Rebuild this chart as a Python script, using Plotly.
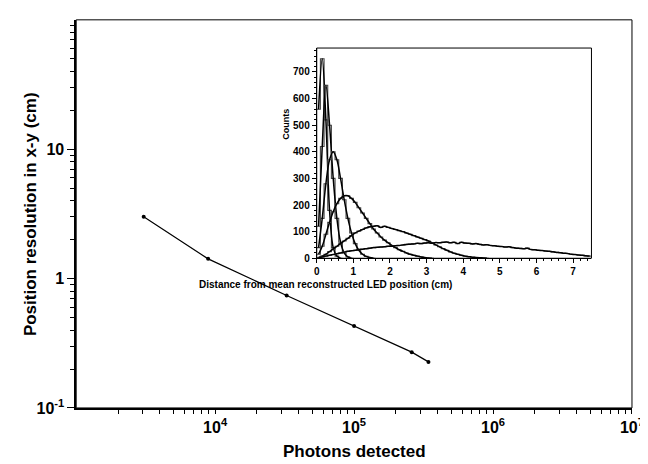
import plotly.graph_objects as go

# main curve: resolution vs photons detected
photons = [3060, 8900, 32700, 100000, 260000, 343000]
resolution = [3.0, 1.42, 0.74, 0.43, 0.27, 0.227]

# inset histograms, 0.1 cm bins starting at 0
bin_width = 0.1
hist_a = [560, 750, 520, 180, 40, 8, 0]
hist_b = [120, 420, 650, 500, 300, 150, 60, 20, 5, 0]
hist_c = [40, 150, 280, 370, 400, 370, 300, 220, 150, 95, 55, 30, 15, 7, 3, 0]
hist_d = [15, 45, 90, 135, 175, 205, 225, 235, 235, 225, 210, 190, 170, 150, 130, 110, 95, 80,
          68, 58, 48, 40, 32, 26, 20, 15, 11, 8, 5, 3, 1, 0]
hist_e = [3, 8, 15, 25, 35, 45, 55, 65, 75, 85, 95, 102, 108, 114, 118, 120, 122, 116, 120, 116,
          112, 108, 104, 100, 95, 90, 85, 80, 75, 70, 65, 58, 50, 43, 36, 30, 24, 19, 15, 11,
          8, 6, 4, 3, 2, 1, 0]
hist_f = [2, 5, 8, 11, 14, 17, 20, 23, 26, 28, 30, 33, 34, 36, 38, 40, 41, 42, 43, 45,
          45, 47, 48, 50, 52, 53, 54, 56, 55, 57, 58, 56, 59, 58, 60, 61, 58, 60, 55, 60,
          57, 56, 54, 55, 52, 50, 51, 48, 47, 45, 44, 42, 43, 40, 38, 37, 36, 38, 33, 32,
          30, 29, 27, 26, 24, 22, 21, 19, 18, 15, 14, 12, 11, 9, 8]
histograms = [hist_a, hist_b, hist_c, hist_d, hist_e, hist_f]

# minor tick positions for log axes
x_minor = [m * 10 ** d for d in range(3, 7) for m in range(2, 10)]
y_minor = [m * 10 ** d for d in range(-1, 2) for m in range(2, 10)]

fig = go.Figure()
fig.add_trace(go.Scatter(x=photons, y=resolution, mode="lines+markers",
                         line=dict(color="black", width=1.2),
                         marker=dict(color="black", size=4), showlegend=False))

for h in histograms:
    edges = [i * bin_width for i in range(len(h))]
    centers = [e + bin_width / 2 for e in edges]
    fig.add_trace(go.Scatter(x=edges + [len(h) * bin_width], y=h + [h[-1]], mode="lines",
                             line=dict(color="#444", width=1.1, shape="hv"),
                             xaxis="x2", yaxis="y2", showlegend=False))
    fig.add_trace(go.Scatter(x=centers, y=h, mode="lines",
                             line=dict(color="black", width=1.5, shape="spline", smoothing=1.0),
                             xaxis="x2", yaxis="y2", showlegend=False))

bold = dict(family="Liberation Sans, Arial", color="black", weight="bold")
axis_common = dict(showline=True, linecolor="black", mirror=False, ticks="outside",
                   tickcolor="black", showgrid=False, zeroline=False)

fig.update_layout(
    width=648, height=464, margin=dict(l=0, r=0, t=0, b=0),
    paper_bgcolor="white", plot_bgcolor="white",
    xaxis=dict(type="log", range=[3, 7], domain=[0.103, 0.981], linewidth=1.5,
               tickvals=[1e4, 1e5, 1e6, 1e7],
               ticktext=["10<sup>4</sup>", "10<sup>5</sup>", "10<sup>6</sup>", "10<sup>7</sup>"],
               ticklen=4, tickfont=dict(size=16, **bold),
               minor=dict(ticks="outside", ticklen=4, tickcolor="black", tickvals=x_minor),
               **axis_common),
    yaxis=dict(type="log", range=[-1, 2], domain=[0.121, 0.974], linewidth=1.5,
               tickvals=[0.1, 1, 10], ticktext=["10<sup>-1</sup>", "1", "10"],
               ticklen=7, tickfont=dict(size=16, **bold),
               minor=dict(ticks="outside", ticklen=4, tickcolor="black", tickvals=y_minor),
               **axis_common),
    xaxis2=dict(range=[0, 7.5], domain=[0.483, 0.917], anchor="y2", linewidth=1,
                tickvals=list(range(8)), ticklen=4, tickfont=dict(size=10, **bold),
                minor=dict(ticks="outside", ticklen=2, tickcolor="black", dtick=0.2),
                **axis_common),
    yaxis2=dict(range=[0, 790], domain=[0.450, 0.912], anchor="x2", linewidth=1,
                tickvals=[0, 100, 200, 300, 400, 500, 600, 700], ticklen=4,
                tickfont=dict(size=10, **bold),
                minor=dict(ticks="outside", ticklen=2, tickcolor="black", dtick=20),
                **axis_common),
    shapes=[
        dict(type="rect", xref="paper", yref="paper", x0=0.103, x1=0.981, y0=0.121, y1=0.974,
             line=dict(color="black", width=1)),
        dict(type="rect", xref="paper", yref="paper", x0=0.483, x1=0.917, y0=0.450, y1=0.912,
             line=dict(color="black", width=1)),
    ],
    annotations=[
        dict(text="Photons detected", x=0.542, y=1 - 452 / 464, xref="paper", yref="paper",
             yanchor="middle", showarrow=False, font=dict(size=17, **bold)),
        dict(text="Position resolution in x-y (cm)", x=0.030, y=0.547, xref="paper",
             yref="paper", xanchor="center", textangle=-90, showarrow=False,
             font=dict(size=17, **bold)),
        dict(text="Distance from mean reconstructed LED position (cm)", x=0.70, y=1 - 282 / 464,
             xref="paper", yref="paper", yanchor="middle", showarrow=False,
             font=dict(size=10, **bold)),
        dict(text="Counts", x=0.434, y=0.745, xref="paper", yref="paper", xanchor="center",
             yanchor="middle", textangle=-90, showarrow=False, font=dict(size=9, **bold)),
    ],
)
fig.write_html("out.html")
